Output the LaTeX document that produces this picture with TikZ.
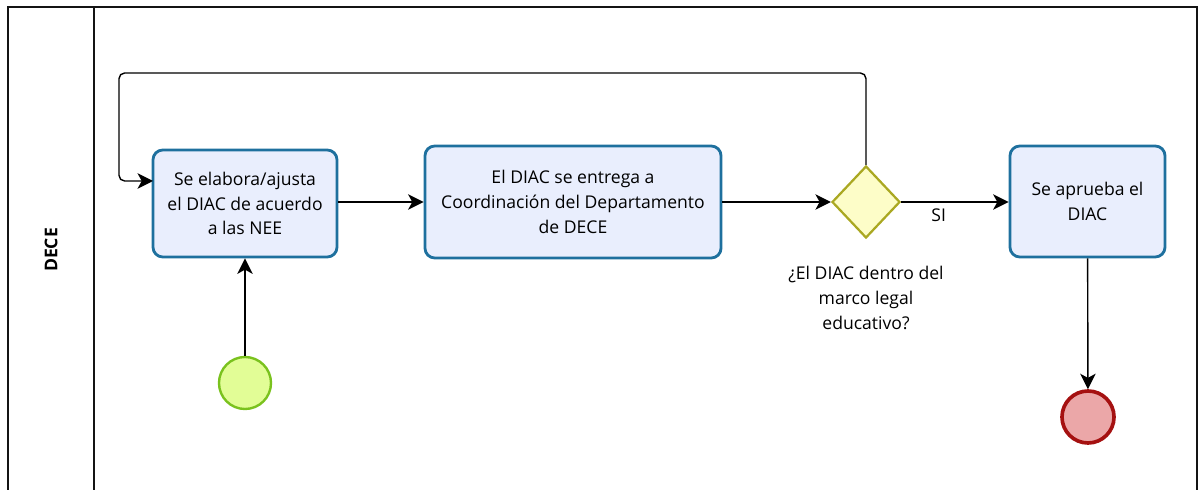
\documentclass[tikz,border=0pt]{standalone}
\usepackage{fontspec}
\setmainfont{Open Sans}
\usetikzlibrary{arrows.meta,shapes.geometric}
\definecolor{lanegray}{RGB}{20,20,20}
\definecolor{taskblue}{RGB}{30,112,158}
\definecolor{taskfill}{RGB}{233,238,253}
\definecolor{gwolive}{RGB}{170,168,34}
\definecolor{gwfill}{RGB}{253,253,200}
\definecolor{startgreen}{RGB}{122,194,30}
\definecolor{startfill}{RGB}{226,253,150}
\definecolor{endred}{RGB}{165,17,17}
\definecolor{endfill}{RGB}{235,167,168}

\begin{document}
\begin{tikzpicture}[
    x=0.025cm, y=-0.025cm,
    flow/.style={-{Stealth[length=11pt,width=11pt,inset=3pt]}, line width=1pt, draw=black},
    task/.style={draw=taskblue, fill=taskfill, line width=2pt, rounded corners=7pt,
        align=center, font=\fontsize{12.5}{17.5}\selectfont, inner sep=2pt},
    gateway/.style={diamond, draw=gwolive, fill=gwfill, line width=1.6pt, inner sep=0pt,
        minimum width=1.7cm, minimum height=1.8cm},
    startev/.style={circle, draw=startgreen, fill=startfill, line width=1.7pt, minimum size=1.3cm},
    endev/.style={circle, draw=endred, fill=endfill, line width=2.6pt, minimum size=1.3cm},
    lbl/.style={font=\fontsize{12.5}{17.5}\selectfont, align=center}
]
\useasboundingbox (0,0) rectangle (1202,490);

% === Carril (pool / lane) ===
\draw[lanegray, line width=0.9pt] (8,495) -- (8,7) -- (1197,7) -- (1197,495);
\draw[lanegray, line width=0.9pt] (94,7) -- (94,495);
\node[rotate=90, font=\fontsize{12.5}{15}\selectfont\bfseries] (lane) at (51,250) {DECE};

% === Tareas ===
\node[task, minimum width=4.6cm, minimum height=2.675cm] (elabora) at (245,203.5)
    {Se elabora/ajusta\\el DIAC de acuerdo\\a las NEE};
\node[task, minimum width=7.4cm, minimum height=2.8cm] (entrega) at (573,202)
    {El DIAC se entrega a\\Coordinación del Departamento\\de DECE};
\node[task, minimum width=3.875cm, minimum height=2.775cm] (aprueba) at (1087.5,201.5)
    {Se aprueba el\\DIAC};

% === Compuerta ===
\node[gateway] (legal) at (866,202) {};
\node[lbl] (pregunta) at (866,298) {¿El DIAC dentro del\\marco legal\\educativo?};

% === Eventos ===
\node[startev] (inicio) at (245,383) {};
\node[endev] (fin) at (1088,417) {};

% === Flujos ===
\coordinate (loopR) at (866,73);
\coordinate (loopL) at (119,73);
\coordinate (elaboraIn) at (153,181);
\draw[flow] (inicio) -- (elabora);
\draw[flow] (elabora.east |- legal.west) -- (entrega.west |- legal.west);
\draw[flow] (entrega.east |- legal.west) -- (legal.west);
\draw[flow] (legal.east) -- node[lbl, below=1pt, pos=0.35] (si) {SI} (aprueba.west |- legal.east);
\draw[flow] (aprueba) -- (fin);
\draw[flow, rounded corners=4pt] (legal.north) -- (loopR) -- (loopL) |- (elaboraIn);

\end{tikzpicture}
\end{document}
